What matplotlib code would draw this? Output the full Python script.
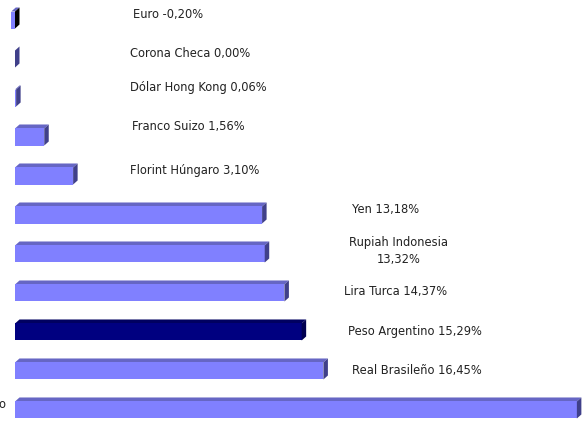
import matplotlib
matplotlib.use("Agg")
import matplotlib.pyplot as plt
from matplotlib.patches import Polygon

# Data (top to bottom)
labels = ["Euro -0,20%", "Corona Checa 0,00%", "Dólar Hong Kong 0,06%",
          "Franco Suizo 1,56%", "Florint Húngaro 3,10%", "Yen 13,18%",
          "Rupiah Indonesia\n13,32%", "Lira Turca 14,37%",
          "Peso Argentino 15,29%", "Real Brasileño 16,45%", "o"]
values = [-0.20, 0.00, 0.06, 1.56, 3.10, 13.18, 13.32, 14.37, 15.29, 16.45, 29.97]
highlight = "Peso Argentino 15,29%"

# label anchor positions (value units / row units) and alignment
label_x = [8.19, 9.33, 9.76, 9.25, 9.6, 19.79, 20.45, 20.32, 21.33, 21.44, -0.53]
label_y = [-0.13, 0.87, 1.74, 2.72, 3.85, 4.87, 5.92, 6.97, 8.0, 9.0, 9.85]
label_ha = ["center"] * 10 + ["right"]

fig = plt.figure(figsize=(5.87, 4.33), dpi=100)
ax = fig.add_axes([0, 0, 1, 1])
ax.set_xlim(-0.8, 30.51)
ax.set_ylim(10.59, -0.513)
ax.axis("off")

h = 0.436     # bar thickness (row units)
dx = 0.24     # depth offset x
dy = 0.103    # depth offset y

front_c = "#8080FF"
top_c = "#6666C4"
side_c = "#40408A"

for i, (lab, v) in enumerate(zip(labels, values)):
    hl = lab == highlight
    fc = "#000080" if hl else front_c
    tc = "#000060" if hl else top_c
    sc = "#000050" if hl else side_c
    x0, x1 = min(0, v), max(0, v)
    yt, yb = i - h / 2, i + h / 2
    if v < 0:
        sc = "#000000"
    # top face
    ax.add_patch(Polygon([(x0, yt), (x1, yt), (x1 + dx, yt - dy), (x0 + dx, yt - dy)],
                         closed=True, facecolor=tc, edgecolor="none"))
    # front face
    ax.add_patch(Polygon([(x0, yt), (x1, yt), (x1, yb), (x0, yb)],
                         closed=True, facecolor=fc, edgecolor="none"))
    # side face
    ax.add_patch(Polygon([(x1, yt), (x1 + dx, yt - dy), (x1 + dx, yb - dy), (x1, yb)],
                         closed=True, facecolor=sc, edgecolor="none"))

    ax.text(label_x[i], label_y[i], lab, ha=label_ha[i], va="center", fontsize=8.3,
            color="#222222", linespacing=1.45, family="DejaVu Sans")

fig.savefig("out.png", dpi=100)
